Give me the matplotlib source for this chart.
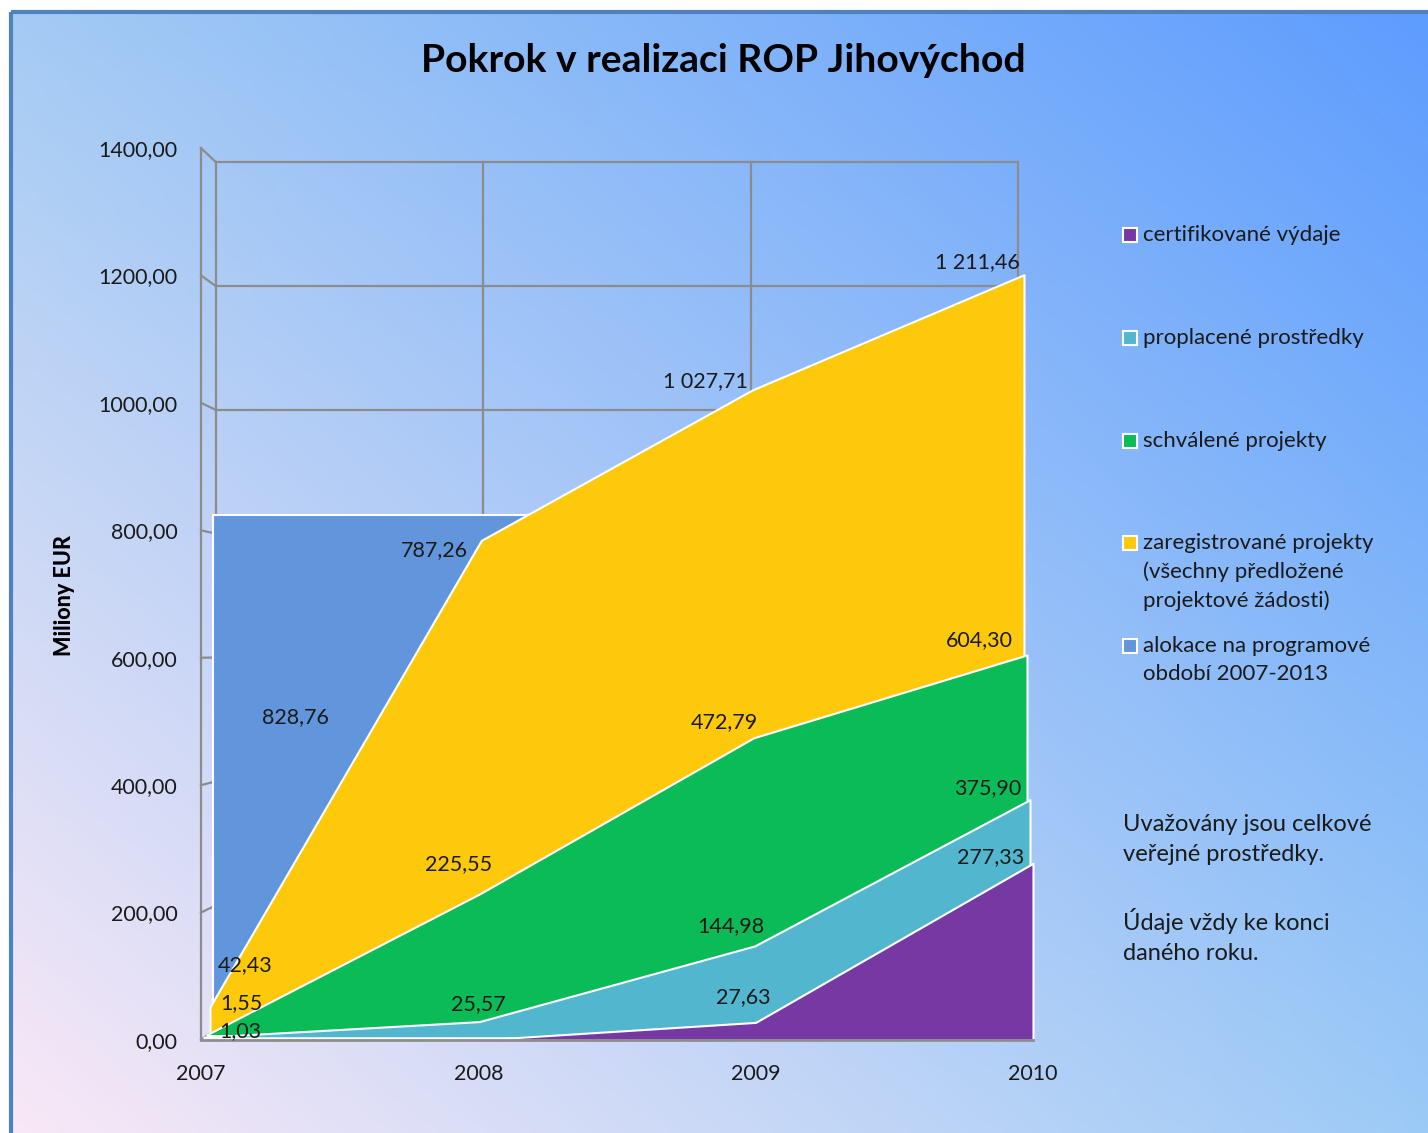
import numpy as np
import matplotlib.pyplot as plt
from matplotlib.patches import Rectangle
from matplotlib.colors import to_rgb

plt.rcParams['font.family'] = ['Lato', 'DejaVu Sans']

# data (Miliony EUR, stav ke konci roku)
years = [2007, 2008, 2009, 2010]
certifikovane = [0, 0, 27.63, 277.33]
proplacene = [1.03, 25.57, 144.98, 375.90]
schvalene = [1.55, 225.55, 472.79, 604.30]
zaregistrovane = [42.43, 787.26, 1027.71, 1211.46]
alokace = [828.76, 828.76, 828.76, 828.76]
yticks = [0, 200, 400, 600, 800, 1000, 1200, 1400]

legend_labels = ['certifikované výdaje',
                 'proplacené prostředky',
                 'schválené projekty',
                 'zaregistrované projekty\n(všechny předložené\nprojektové žádosti)',
                 'alokace na programové\nobdobí 2007-2013']

W, H = 1428, 1133
fig = plt.figure(figsize=(W / 100, H / 100), dpi=100)

# background with gradient and frame
bg = fig.add_axes([0, 0, 1, 1])
bg.set_xlim(0, W)
bg.set_ylim(H, 0)
bg.axis('off')
u = np.linspace(0, 1, 300)[None, :, None]
v = np.linspace(0, 1, 240)[:, None, None]
tl, tr = np.array(to_rgb('#a4cbf4')), np.array(to_rgb('#5e9cfe'))
bl, br = np.array(to_rgb('#f9e8f7')), np.array(to_rgb('#9ccaf6'))
grad = (1 - v) * ((1 - u) * tl + u * tr) + v * ((1 - u) * bl + u * br)
bg.imshow(grad, extent=[12, W, H, 13], aspect='auto', zorder=0)
bg.add_patch(Rectangle((11, 12), W, H, fill=False, ec='#4f81bd', lw=3, zorder=1))

# main axes = front plane of the 3D chart
ax = fig.add_axes([201 / W, 93 / H, 832 / W, 892 / H])
ax.set_xlim(2007, 2010)
ax.set_ylim(0, 1400)
ax.patch.set_alpha(0)
for s in ax.spines.values():
    s.set_visible(False)


def project(xs, vs, d):
    """shift points to depth d (0 = front, 1 = back wall)"""
    xs = np.asarray(xs, float)
    vs = np.asarray(vs, float)
    fx = 201 + 277.33 * (xs - 2007)
    bx = 216 + 267.33 * (xs - 2007)
    fy = 1040 - 0.6371 * vs
    by = 1029 - 0.619 * vs
    px = fx + d * (bx - fx)
    py = fy + d * (by - fy)
    return 2007 + (px - 201) / 277.33, (1040 - py) / 0.6371


grid_kw = dict(color='#8c8c8c', lw=1.6, zorder=1, clip_on=False)
# back wall grid
for t in yticks:
    gx, gy = project([2007, 2010], [t, t], 1)
    ax.plot(gx, gy, **grid_kw)
    fx, fy = project([2007], [t], 0)
    bx, by = project([2007], [t], 1)
    ax.plot([fx[0], bx[0]], [fy[0], by[0]], **grid_kw)
for yr in years:
    gx, gy = project([yr, yr], [0, 1400], 1)
    ax.plot(gx, gy, **grid_kw)
ax.plot([2007, 2007], [0, 1400], **grid_kw)

# areas, back to front
series = [alokace, zaregistrovane, schvalene, proplacene, certifikovane]
colors = ['#6196dc', '#fec90b', '#0bbb57', '#52b6cf', '#7639a4']
depths = [0.8, 0.6, 0.4, 0.2, 0.0]
for i, (vals, c, d) in enumerate(zip(series, colors, depths)):
    xp, yp = project(years, vals, d)
    _, y0 = project(years, np.zeros(4), d)
    ax.fill_between(xp, y0, yp, color=c, ec='white', lw=1.5, zorder=2 + i, clip_on=False)

ax.plot([2007, 2010], [0, 0], color='#8c8c8c', lw=2, zorder=8, clip_on=False)

# data labels (offsets in pixels)
label_offsets = {
    0: {0: (94, -205)},
    1: {0: (44, 48), 1: (-44, -12), 2: (-50, 4), 3: (-56, 6)},
    2: {0: (40, 36), 1: (-20, 32), 2: (-31, 17), 3: (-54, 15)},
    3: {0: (39, 8), 1: (0, 20), 2: (-25, 22), 3: (-45, 12)},
    4: {2: (-12, 25), 3: (-42, 6)},
}


def fmt(val):
    return f'{val:,.2f}'.replace(',', ' ').replace('.', ',')


for i, vals in enumerate(series):
    for j, off in label_offsets[i].items():
        ax.annotate(fmt(vals[j]), (years[j], vals[j]), xytext=off,
                    textcoords='offset pixels', ha='center', va='center',
                    fontsize=15.5, color='#1a1a1a', zorder=10, annotation_clip=False)

# ticks
ax.set_yticks(yticks)
ax.set_yticklabels([f'{t},00' for t in yticks])
ax.set_xticks(years)
ax.set_xticklabels([str(y) for y in years])
ax.tick_params(axis='y', length=0, pad=17, labelsize=15.4, labelcolor='#1a1a1a')
ax.tick_params(axis='x', length=0, pad=17, labelsize=15.4, labelcolor='#1a1a1a')
ax.set_ylabel('Miliony EUR', fontsize=15.5, fontweight='black')
ax.yaxis.set_label_coords(-0.151, 0.498)

# title
bg.text(723, 60, 'Pokrok v realizaci ROP Jihovýchod', ha='center', va='center',
        fontsize=28.2, fontweight='bold', color='black')

# legend
leg_y = [235, 338, 441, 543, 646]
leg_colors = ['#7639a4', '#52b6cf', '#0bbb57', '#fec90b', '#6196dc']
for y, c, lab in zip(leg_y, leg_colors, legend_labels):
    bg.add_patch(Rectangle((1123, y - 7), 14, 14, fc=c, ec='white', lw=1.5, zorder=3))
    bg.text(1143, y - 10, lab, ha='left', va='top', fontsize=16,
            color='#1a1a1a', linespacing=1.5)

bg.text(1123, 814, 'Uvažovány jsou celkové\nveřejné prostředky.\n\nÚdaje vždy ke konci\ndaného roku.',
        ha='left', va='top', fontsize=17, color='#1a1a1a', linespacing=1.55)

fig.savefig('out.png', dpi=100)
